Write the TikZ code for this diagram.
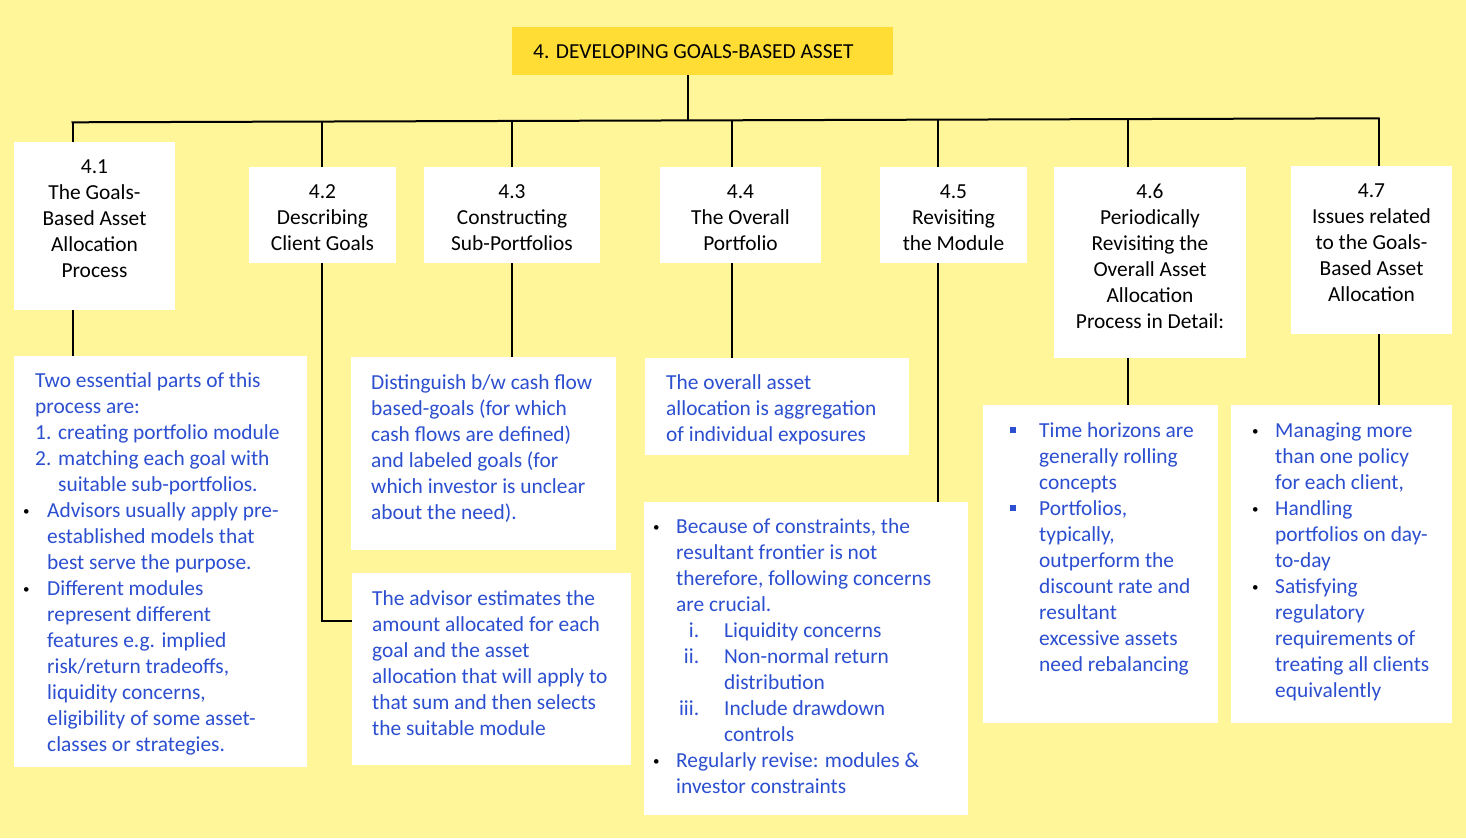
\documentclass[tikz,border=0pt]{standalone}
\usepackage{fontspec}
\setmainfont{Carlito}
\definecolor{bgY}{HTML}{FFF599}
\definecolor{titleY}{HTML}{FFDD35}
\definecolor{txtB}{HTML}{2C4FD0}
\newcommand\fl{\rule{0pt}{16pt}}
\newcommand\ind[1]{\hspace*{#1pt}}
\newcommand\bu[1]{\makebox[#1pt][l]{\raisebox{2pt}{\color{black}\fontsize{13}{13}\selectfont\textbullet}}}
\newcommand\sq[1]{\makebox[#1pt][l]{\raisebox{4pt}{\rule{6pt}{6pt}}}}
\newcommand\rn[1]{\makebox[46pt][r]{#1}\hspace*{25pt}}
\tikzset{
  wbox/.style={fill=white, draw=none, inner sep=0pt, anchor=north west},
  tbox/.style={fill=titleY, draw=none, inner sep=0pt, anchor=north west},
  ctext/.style={anchor=north west, inner sep=0pt, align=left, text=txtB, font=\fontsize{21.4}{26}\selectfont},
  htext/.style={anchor=north, inner sep=0pt, align=center, text=black, font=\fontsize{21.4}{26}\selectfont},
  conn/.style={draw=black, line width=2pt},
}
\begin{document}
\begin{tikzpicture}[x=1pt,y=-1pt]
\fill[bgY] (0,0) rectangle (1466,838);
\useasboundingbox (0,0) rectangle (1466,838);

% boxes
\node[tbox, minimum width=381, minimum height=48] (title) at (512,27) {};
\node[wbox, minimum width=161, minimum height=168] (h41) at (14,142) {};
\node[wbox, minimum width=147, minimum height=96] (h42) at (249,167) {};
\node[wbox, minimum width=176, minimum height=96] (h43) at (424,167) {};
\node[wbox, minimum width=161, minimum height=96] (h44) at (660,167) {};
\node[wbox, minimum width=147, minimum height=96] (h45) at (880,167) {};
\node[wbox, minimum width=192, minimum height=191] (h46) at (1054,167) {};
\node[wbox, minimum width=161, minimum height=168] (h47) at (1291,166) {};
\node[wbox, minimum width=293, minimum height=411] (b1) at (14,356) {};
\node[wbox, minimum width=265, minimum height=193] (b2) at (351,357) {};
\node[wbox, minimum width=279, minimum height=192] (b3) at (352,573) {};
\node[wbox, minimum width=264, minimum height=97] (b4) at (645,358) {};
\node[wbox, minimum width=324, minimum height=313] (b5) at (644,502) {};
\node[wbox, minimum width=235, minimum height=318] (b6) at (983,405) {};
\node[wbox, minimum width=221, minimum height=318] (b7) at (1231,405) {};

% connectors (bus slightly tilted as in the reference)
\coordinate (busL) at (71.5,122.3);
\coordinate (busR) at (1379.7,118.3);
\coordinate (x0) at (688,120.4);
\coordinate (x41) at (72.5,122.3);
\coordinate (x42) at (322,121.5);
\coordinate (x43) at (512,121.0);
\coordinate (x44) at (732,120.3);
\coordinate (x45) at (938,119.6);
\coordinate (x46) at (1128,119.1);
\coordinate (x47) at (1378.7,118.3);
\coordinate (j42) at (322,621);
\draw[conn] (x0 |- title.south) -- (x0);
\draw[conn] (busL) -- (busR);
\draw[conn] (x41) -- (x41 |- h41.north);
\draw[conn] (x42) -- (x42 |- h42.north);
\draw[conn] (x43) -- (x43 |- h43.north);
\draw[conn] (x44) -- (x44 |- h44.north);
\draw[conn] (x45) -- (x45 |- h45.north);
\draw[conn] (x46) -- (x46 |- h46.north);
\draw[conn] (x47) -- (x47 |- h47.north);
\draw[conn] (x41 |- h41.south) -- (x41 |- b1.north);
\draw[conn] (x42 |- h42.south) -- (j42) -- (j42 -| b3.west);
\draw[conn] (x43 |- h43.south) -- (x43 |- b2.north);
\draw[conn] (x44 |- h44.south) -- (x44 |- b4.north);
\draw[conn] (x45 |- h45.south) -- (x45 |- b5.north);
\draw[conn] (x46 |- h46.south) -- (x46 |- b6.north);
\draw[conn] (x47 |- h47.south) -- (x47 |- b7.north);

% title text
\node[anchor=north west, inner sep=0pt, text=black, font=\fontsize{21.4}{26}\selectfont] (tt) at (533,42) {\fl 4. DEVELOPING GOALS-BASED ASSET};

% header texts
\node[htext] (t41) at (94.5,157) {\fl 4.1\\The Goals-\\Based Asset\\Allocation\\Process};
\node[htext] (t42) at (322.5,182) {\fl 4.2\\Describing\\Client Goals};
\node[htext] (t43) at (512,182) {\fl 4.3\\Constructing\\Sub-Portfolios};
\node[htext] (t44) at (740.5,182) {\fl 4.4\\The Overall\\Portfolio};
\node[htext] (t45) at (953.5,182) {\fl 4.5\\Revisiting\\the Module};
\node[htext] (t46) at (1150,182) {\fl 4.6\\Periodically\\Revisiting the\\Overall Asset\\Allocation\\Process in Detail:};
\node[htext] (t47) at (1371.5,181) {\fl 4.7\\Issues related\\to the Goals-\\Based Asset\\Allocation};

% content texts
\node[ctext] (c1) at (23,371) {\fl\ind{12}Two essential parts of this\\
\ind{12}process are:\\
\ind{12}\makebox[23pt][l]{1.}creating portfolio module\\
\ind{12}\makebox[23pt][l]{2.}matching each goal with\\
\ind{35}suitable sub-portfolios.\\
\bu{24}Advisors usually apply pre-\\
\ind{24}established models that\\
\ind{24}best serve the purpose.\\
\bu{24}Different modules\\
\ind{24}represent different\\
\ind{24}features e.g. implied\\
\ind{24}risk/return tradeoffs,\\
\ind{24}liquidity concerns,\\
\ind{24}eligibility of some asset-\\
\ind{24}classes or strategies.};

\node[ctext] (c2) at (371,373) {\fl Distinguish b/w cash flow\\
based-goals (for which\\
cash flows are defined)\\
and labeled goals (for\\
which investor is unclear\\
about the need).};

\node[ctext] (c3) at (372,589) {\fl The advisor estimates the\\
amount allocated for each\\
goal and the asset\\
allocation that will apply to\\
that sum and then selects\\
the suitable module};

\node[ctext] (c4) at (666,373) {\fl The overall asset\\
allocation is aggregation\\
of individual exposures};

\node[ctext] (c5) at (653,517) {\fl\bu{23}Because of constraints, the\\
\ind{23}resultant frontier is not\\
\ind{23}therefore, following concerns\\
\ind{23}are crucial.\\
\rn{i.}Liquidity concerns\\
\rn{ii.}Non-normal return\\
\ind{71}distribution\\
\rn{iii.}Include drawdown\\
\ind{71}controls\\
\bu{23}Regularly revise: modules \&\\
\ind{23}investor constraints};

\node[ctext] (c6) at (1010,421) {\fl\sq{29}Time horizons are\\
\ind{29}generally rolling\\
\ind{29}concepts\\
\sq{29}Portfolios,\\
\ind{29}typically,\\
\ind{29}outperform the\\
\ind{29}discount rate and\\
\ind{29}resultant\\
\ind{29}excessive assets\\
\ind{29}need rebalancing};

\node[ctext] (c7) at (1252,421) {\fl\bu{23}Managing more\\
\ind{23}than one policy\\
\ind{23}for each client,\\
\bu{23}Handling\\
\ind{23}portfolios on day-\\
\ind{23}to-day\\
\bu{23}Satisfying\\
\ind{23}regulatory\\
\ind{23}requirements of\\
\ind{23}treating all clients\\
\ind{23}equivalently};
\end{tikzpicture}
\end{document}
